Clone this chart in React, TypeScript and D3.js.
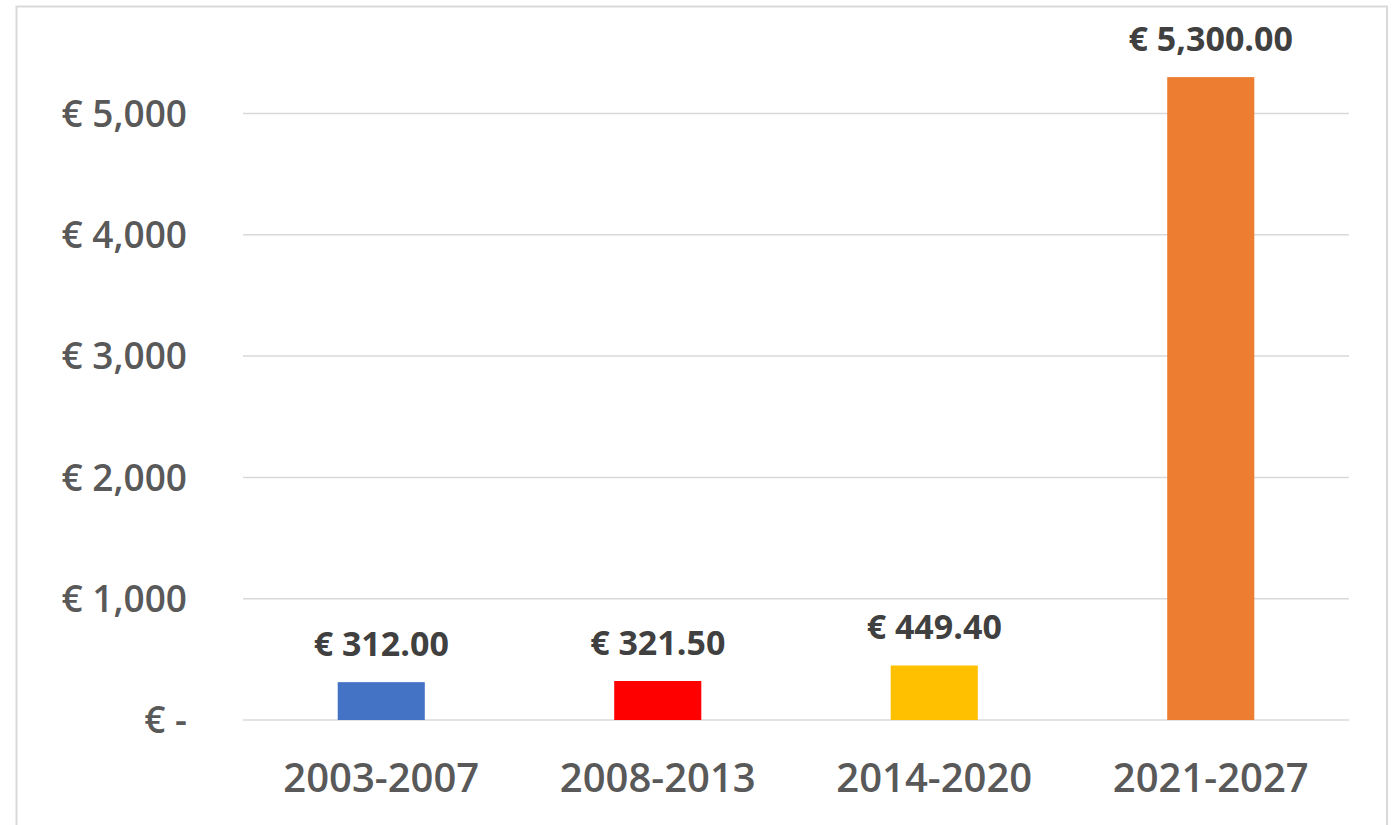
import React from "react";
import * as d3 from "d3";

const categories = ["2003-2007", "2008-2013", "2014-2020", "2021-2027"];
const values = [312.0, 321.5, 449.4, 5300.0];
const colors = ["#4472C4", "#FF0000", "#FFC000", "#ED7D31"];
const yTicks = [0, 1000, 2000, 3000, 4000, 5000];

const W = 1392;
const H = 825;
const FONT = "'Open Sans', 'Noto Sans', sans-serif";

const fmtTick = (v: number) => (v === 0 ? "€ -" : "€ " + d3.format(",")(v));
const fmtLabel = (v: number) => "€ " + d3.format(",.2f")(v);

export default function App() {
  const x = d3
    .scaleBand<string>()
    .domain(categories)
    .range([243, 1349])
    .paddingInner(0.685)
    .paddingOuter(0.3425);
  const y = d3.scaleLinear().domain([0, 5000]).range([720, 113.5]);

  return (
    <div style={{ position: "absolute", left: 0, top: 0 }}>
      <svg width={W} height={H} style={{ display: "block", background: "#fff" }}>
        <rect x={16.5} y={6.5} width={1370.5} height={840} fill="#fff" stroke="#d9d9d9" strokeWidth={2} />
        {yTicks.map((t) => (
          <g key={t}>
            <line x1={243} x2={1349} y1={y(t)} y2={y(t)} stroke="#d9d9d9" strokeWidth={1.5} />
            <text
              x={187}
              y={y(t)}
              dy="0.36em"
              textAnchor="end"
              fontFamily={FONT}
              fontSize={37}
              fontWeight={600}
              fill="#595959"
            >
              {fmtTick(t)}
            </text>
          </g>
        ))}
        {categories.map((c, i) => {
          const bx = x(c)!;
          const bw = x.bandwidth();
          const cx = bx + bw / 2;
          return (
            <g key={c}>
              <rect x={bx} y={y(values[i])} width={bw} height={y(0) - y(values[i])} fill={colors[i]} />
              <text
                x={cx}
                y={y(values[i]) - 26}
                textAnchor="middle"
                fontFamily={FONT}
                fontWeight="bold"
                fontSize={34}
                fill="#404040"
              >
                {fmtLabel(values[i])}
              </text>
              <text
                x={cx}
                y={792}
                textAnchor="middle"
                fontFamily={FONT}
                fontSize={40}
                fontWeight={600}
                fill="#595959"
              >
                {c}
              </text>
            </g>
          );
        })}
      </svg>
    </div>
  );
}
